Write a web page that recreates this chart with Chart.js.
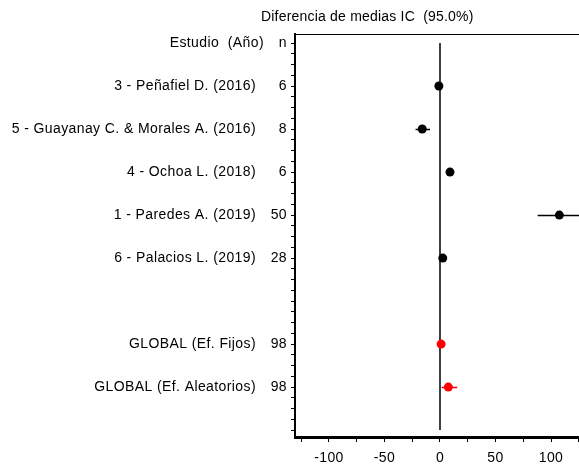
<!DOCTYPE html>
<html>
<head>
<meta charset="utf-8">
<script src="https://cdn.jsdelivr.net/npm/chart.js@4"></script>
<style>
  html, body { margin: 0; padding: 0; background: #fff; }
  #wrap { width: 579px; height: 467px; position: relative; }
</style>
</head>
<body>
<div id="wrap"><canvas id="forestChart"></canvas></div>
<script>
// Forest plot data
const studyLabels = ['3 - Peñafiel D. (2016)', '5 - Guayanay C. & Morales A. (2016)', '4 - Ochoa L. (2018)', '1 - Paredes A. (2019)', '6 - Palacios L. (2019)'];
const studyN = [6, 8, 6, 50, 28];
const studyRows = [1, 2, 3, 4, 5];
const studyMeans = [-1, -16, 9, 107.5, 2.5];
const studyLower = [-3, -22, 6, 88, 0.5];
const studyUpper = [1, -9, 12, 127, 4.5];

const globalLabels = ['GLOBAL (Ef. Fijos)', 'GLOBAL (Ef. Aleatorios)'];
const globalN = [98, 98];
const globalRows = [7, 8];
const globalMeans = [1, 7.5];
const globalLower = [-0.5, 1.5];
const globalUpper = [2.5, 15.5];

const headerLabel = 'Estudio  (Año)';
const headerN = 'n';
const chartTitle = 'Diferencia de medias IC  (95.0%)';
const xTicks = [-125, -100, -75, -50, -25, 0, 25, 50, 75, 100, 125];
const zeroLineRows = [0, 9];

const FONT = '"Liberation Sans", Arial, sans-serif';
const FONT_SIZE = 14;
const SPACING = '0.4px';

function toPoints(vals, rows) {
    return vals.map(function(v, i) { return { x: v, y: rows[i] }; });
}

// row -> n label for y ticks
const nByRow = { 0: headerN };
studyRows.forEach(function(r, i) { nByRow[r] = String(studyN[i]); });
globalRows.forEach(function(r, i) { nByRow[r] = String(globalN[i]); });

// Draws the CI whiskers, the row labels, the title and the top border
const forestPlugin = {
    id: 'forestPlugin',
    beforeDraw: function(chart) {
        // wider text like the original rendering
        chart.ctx.letterSpacing = SPACING;
    },
    beforeDatasetsDraw: function(chart) {
        const ctx = chart.ctx;
        const xs = chart.scales.x;
        const ys = chart.scales.y;
        ctx.save();
        ctx.lineWidth = 1.5;
        function whiskers(lo, hi, rows, color) {
            ctx.strokeStyle = color;
            rows.forEach(function(r, i) {
                const y = Math.round(ys.getPixelForValue(r)) + 0.5;
                ctx.beginPath();
                ctx.moveTo(xs.getPixelForValue(lo[i]), y);
                ctx.lineTo(xs.getPixelForValue(hi[i]), y);
                ctx.stroke();
            });
        }
        ctx.beginPath();
        ctx.rect(chart.chartArea.left, chart.chartArea.top, chart.chartArea.width, chart.chartArea.height);
        ctx.clip();
        whiskers(studyLower, studyUpper, studyRows, '#000');
        whiskers(globalLower, globalUpper, globalRows, '#ff0000');
        ctx.restore();
    },
    afterDraw: function(chart) {
        const ctx = chart.ctx;
        const ys = chart.scales.y;
        const area = chart.chartArea;
        ctx.save();
        ctx.letterSpacing = SPACING;
        ctx.fillStyle = '#000';
        ctx.font = FONT_SIZE + 'px ' + FONT;
        ctx.textBaseline = 'middle';
        ctx.textAlign = 'right';
        ctx.fillText(headerLabel, 264, ys.getPixelForValue(0));
        studyLabels.forEach(function(t, i) {
            ctx.fillText(t, 256, ys.getPixelForValue(studyRows[i]));
        });
        globalLabels.forEach(function(t, i) {
            ctx.fillText(t, 256, ys.getPixelForValue(globalRows[i]));
        });
        ctx.textAlign = 'left';
        ctx.letterSpacing = '0.2px';
        ctx.fillText(chartTitle, 261, 17);
        // thin top border
        ctx.strokeStyle = '#000';
        ctx.lineWidth = 1;
        ctx.beginPath();
        ctx.moveTo(area.left, area.top + 0.5);
        ctx.lineTo(area.right, area.top + 0.5);
        ctx.stroke();
        ctx.restore();
    }
};

function initChart() {
    const ctx = document.getElementById('forestChart');
    new Chart(ctx, {
        type: 'scatter',
        data: {
            datasets: [
                {
                    label: 'Estudios',
                    data: toPoints(studyMeans, studyRows),
                    backgroundColor: '#000',
                    borderColor: '#000',
                    pointRadius: 4.5,
                    pointBorderWidth: 0
                },
                {
                    label: 'Global',
                    data: toPoints(globalMeans, globalRows),
                    backgroundColor: '#ff0000',
                    borderColor: '#ff0000',
                    pointRadius: 4.5,
                    pointBorderWidth: 0
                },
                {
                    label: 'Cero',
                    type: 'line',
                    data: zeroLineRows.map(function(r) { return { x: 0, y: r }; }),
                    borderColor: '#000',
                    borderWidth: 1.5,
                    pointRadius: 0,
                    order: 5
                }
            ]
        },
        options: {
            responsive: true,
            maintainAspectRatio: false,
            animation: false,
            layout: { autoPadding: false, padding: { left: 0, right: 0, top: 34, bottom: 0 } },
            plugins: {
                legend: { display: false },
                tooltip: { enabled: false }
            },
            scales: {
                x: {
                    type: 'linear',
                    min: -130.6,
                    max: 125.2,
                    afterBuildTicks: function(scale) {
                        scale.ticks = xTicks.map(function(v) { return { value: v }; });
                    },
                    afterFit: function(scale) {
                        scale.height = 30;
                        scale.paddingLeft = 0;
                        scale.paddingRight = 0;
                    },
                    grid: {
                        drawOnChartArea: false,
                        drawTicks: true,
                        tickLength: 5,
                        tickColor: '#000',
                        tickWidth: 1
                    },
                    border: { display: true, color: '#000', width: 3 },
                    ticks: {
                        autoSkip: false,
                        maxRotation: 0,
                        padding: 8,
                        color: '#000',
                        font: { family: FONT, size: FONT_SIZE },
                        callback: function(v) { return v % 50 === 0 ? String(v) : ''; }
                    }
                },
                y: {
                    type: 'linear',
                    reverse: true,
                    min: -0.21,
                    max: 9.16,
                    afterBuildTicks: function(scale) {
                        const t = [];
                        for (let v = 0; v <= 9; v += 0.25) t.push({ value: v });
                        scale.ticks = t;
                    },
                    afterFit: function(scale) {
                        scale.width = 295;
                        scale.paddingTop = 0;
                        scale.paddingBottom = 0;
                    },
                    grid: {
                        drawOnChartArea: false,
                        drawTicks: true,
                        tickLength: 4,
                        tickColor: '#000',
                        tickWidth: 1
                    },
                    border: { display: true, color: '#000', width: 2 },
                    ticks: {
                        autoSkip: false,
                        padding: 4,
                        color: '#000',
                        font: { family: FONT, size: FONT_SIZE },
                        callback: function(v) { return nByRow[v] !== undefined ? nByRow[v] : ''; }
                    }
                }
            }
        },
        plugins: [forestPlugin]
    });
}

window.addEventListener('load', initChart);
</script>
</body>
</html>
